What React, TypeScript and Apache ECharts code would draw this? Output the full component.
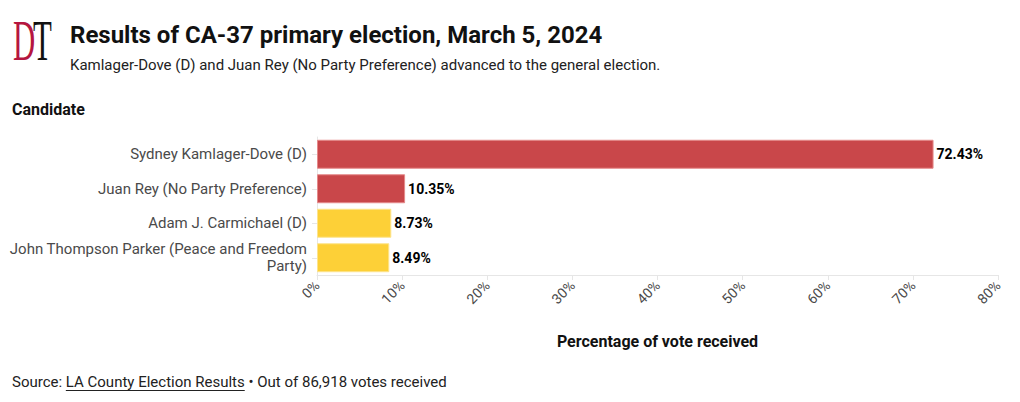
import React, { useEffect, useRef } from "react";
import * as echarts from "echarts";

const categories = [
  "Sydney Kamlager-Dove (D)",
  "Juan Rey (No Party Preference)",
  "Adam J. Carmichael (D)",
  "John Thompson Parker (Peace and Freedom\nParty)",
];
const values = [72.43, 10.35, 8.73, 8.49];
const barColors = ["#c9474a", "#c9474a", "#fdd037", "#fdd037"];
const borderColors = ["#e58a8b", "#e58a8b", "#fde48c", "#fde48c"];
const xTicks = [0, 10, 20, 30, 40, 50, 60, 70, 80];

const FONT = "Roboto, 'Noto Sans', sans-serif";

function measure(text: string, font: string): number {
  const c = document.createElement("canvas").getContext("2d");
  if (!c) return text.length * 7;
  c.font = font;
  return c.measureText(text).width;
}

export default function App() {
  const ref = useRef<HTMLDivElement>(null);
  useEffect(() => {
    document.body.style.margin = "0";
    if (!ref.current) return;
    const chart = echarts.init(ref.current, null, { renderer: "svg" });

    const srcFont = `15px ${FONT}`;
    const w1 = measure("Source: ", srcFont);
    const w2 = measure("LA County Election Results", srcFont);
    const srcX = 12;
    const srcY = 382;

    chart.setOption({
      animation: false,
      grid: { left: 317, right: 22, top: 137, bottom: 127, containLabel: false },
      xAxis: {
        type: "value",
        min: 0,
        max: 80,
        interval: 10,
        name: "Percentage of vote received",
        nameLocation: "middle",
        nameGap: 58,
        nameTextStyle: { fontFamily: FONT, fontSize: 16, fontWeight: "bold", color: "#111" },
        axisLine: { show: true, lineStyle: { color: "#e6e6e6" } },
        axisTick: { show: true, length: 5, lineStyle: { color: "#e6e6e6" } },
        splitLine: { show: false },
        axisLabel: {
          rotate: 45,
          margin: 8,
          fontFamily: FONT,
          fontSize: 14,
          color: "#4a4a4a",
          formatter: (v: number) => (xTicks.includes(v) ? `${v}%` : ""),
        },
      },
      yAxis: {
        type: "category",
        inverse: true,
        data: categories,
        axisLine: { show: true, lineStyle: { color: "#e6e6e6" } },
        axisTick: { show: true, alignWithLabel: true, length: 5, lineStyle: { color: "#e6e6e6" } },
        axisLabel: {
          fontFamily: FONT,
          fontSize: 15,
          color: "#4a4a4a",
          margin: 10,
          lineHeight: 17,
          align: "right",
        },
      },
      series: [
        {
          type: "bar",
          barCategoryGap: "16%",
          data: values.map((v, i) => ({
            value: v,
            itemStyle: { color: barColors[i], borderColor: borderColors[i], borderWidth: 1 },
          })),
          label: {
            show: true,
            position: "right",
            distance: 3,
            fontFamily: FONT,
            fontSize: 14,
            fontWeight: "bold",
            color: "#000",
            formatter: (p: any) => `${Number(p.value).toFixed(2)}%`,
          },
        },
      ],
      graphic: [
        {
          type: "text",
          left: 13,
          top: 13,
          style: {
            text: "D",
            font: "56px 'Liberation Serif', serif",
            fill: "#b5163f",
          },
          scaleX: 0.55,
        },
        {
          type: "text",
          left: 33,
          top: 13,
          style: {
            text: "T",
            font: "56px 'Liberation Serif', serif",
            fill: "#111",
          },
          scaleX: 0.55,
        },
        {
          type: "text",
          left: 70,
          top: 23,
          style: {
            text: "Results of CA-37 primary election, March 5, 2024",
            font: `bold 24px ${FONT}`,
            fill: "#111",
          },
        },
        {
          type: "text",
          left: 70,
          top: 57,
          style: {
            text: "Kamlager-Dove (D) and Juan Rey (No Party Preference) advanced to the general election.",
            font: `15px ${FONT}`,
            fill: "#222",
          },
        },
        {
          type: "text",
          left: 12,
          top: 101,
          style: { text: "Candidate", font: `bold 16px ${FONT}`, fill: "#111" },
        },
        {
          type: "text",
          x: srcX,
          y: srcY,
          style: { text: "Source: ", font: srcFont, fill: "#222", textVerticalAlign: "middle" },
        },
        {
          type: "text",
          x: srcX + w1,
          y: srcY,
          style: { text: "LA County Election Results", font: srcFont, fill: "#222", textVerticalAlign: "middle" },
        },
        {
          type: "line",
          shape: { x1: srcX + w1, y1: srcY + 8.5, x2: srcX + w1 + w2, y2: srcY + 8.5 },
          style: { stroke: "#222", lineWidth: 1 },
        },
        {
          type: "text",
          x: srcX + w1 + w2,
          y: srcY,
          style: { text: " \u2022 Out of 86,918 votes received", font: srcFont, fill: "#222", textVerticalAlign: "middle" },
        },
      ],
    });
    return () => chart.dispose();
  }, []);
  return <div ref={ref} style={{ width: 1020, height: 402 }} />;
}
